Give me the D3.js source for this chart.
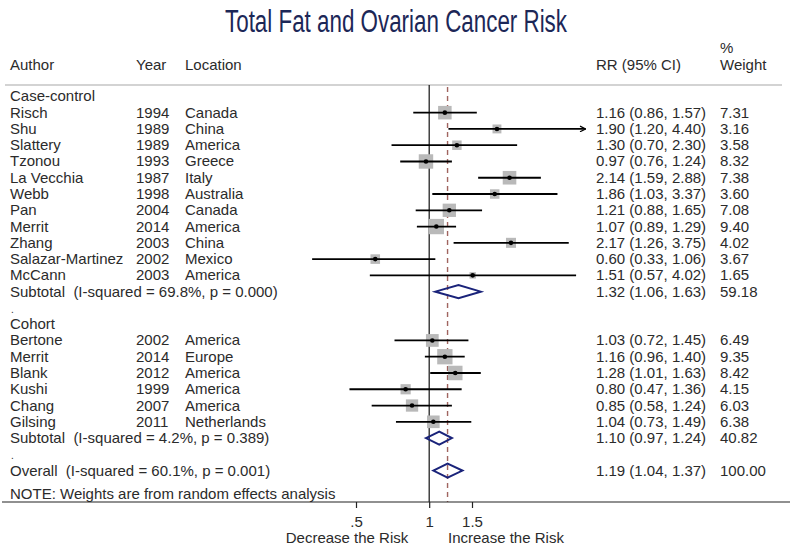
<!DOCTYPE html>
<html>
<head>
<meta charset="utf-8">
<script src="https://cdn.jsdelivr.net/npm/d3@7"></script>
<style>
  html, body { margin: 0; padding: 0; background: #fff; }
  svg { display: block; }
  text { font-family: "Liberation Sans", Arial, sans-serif; white-space: pre; }
</style>
</head>
<body>
<script>
// ---- data ----
const ccAuthors   = ["Risch","Shu","Slattery","Tzonou","La Vecchia","Webb","Pan","Merrit","Zhang","Salazar-Martinez","McCann"];
const ccYears     = [1994,1989,1989,1993,1987,1998,2004,2014,2003,2002,2003];
const ccLocations = ["Canada","China","America","Greece","Italy","Australia","Canada","America","China","Mexico","America"];
const ccRR        = [1.16,1.90,1.30,0.97,2.14,1.86,1.21,1.07,2.17,0.60,1.51];
const ccLo        = [0.86,1.20,0.70,0.76,1.59,1.03,0.88,0.89,1.26,0.33,0.57];
const ccHi        = [1.57,4.40,2.30,1.24,2.88,3.37,1.65,1.29,3.75,1.06,4.02];
const ccWeight    = [7.31,3.16,3.58,8.32,7.38,3.60,7.08,9.40,4.02,3.67,1.65];

const coAuthors   = ["Bertone","Merrit","Blank","Kushi","Chang","Gilsing"];
const coYears     = [2002,2014,2012,1999,2007,2011];
const coLocations = ["America","Europe","America","America","America","Netherlands"];
const coRR        = [1.03,1.16,1.28,0.80,0.85,1.04];
const coLo        = [0.72,0.96,1.01,0.47,0.58,0.73];
const coHi        = [1.45,1.40,1.63,1.36,1.24,1.49];
const coWeight    = [6.49,9.35,8.42,4.15,6.03,6.38];

const groupNames  = ["Case-control","Cohort"];
const subLabels   = ["Subtotal  (I-squared = 69.8%, p = 0.000)","Subtotal  (I-squared = 4.2%, p = 0.389)"];
const subRR       = [1.32,1.10];
const subLo       = [1.06,0.97];
const subHi       = [1.63,1.24];
const subWeight   = ["59.18","40.82"];

const overallLabel  = "Overall  (I-squared = 60.1%, p = 0.001)";
const overallRR     = 1.19, overallLo = 1.04, overallHi = 1.37, overallWeight = "100.00";
const noteText      = "NOTE: Weights are from random effects analysis";
const xTicks        = [0.5, 1, 1.5];
const xTickLabels   = [".5", "1", "1.5"];
const titleText     = "Total Fat and Ovarian Cancer Risk";
const headers       = {author:"Author", year:"Year", location:"Location", rr:"RR (95% CI)", pct:"%", weight:"Weight"};
const leftLabel  = "Decrease the Risk";
const rightLabel = "Increase the Risk";

// ---- build row table ----
const rows = [];
function addGroup(g, authors, years, locs, rr, lo, hi, w) {
  rows.push({type:"group", label: groupNames[g]});
  authors.forEach((a,i) => rows.push({type:"study", label:a, year:years[i], loc:locs[i], rr:rr[i], lo:lo[i], hi:hi[i], w:w[i]}));
  rows.push({type:"sub", label: subLabels[g], rr: subRR[g], lo: subLo[g], hi: subHi[g], wtxt: subWeight[g]});
}
addGroup(0, ccAuthors, ccYears, ccLocations, ccRR, ccLo, ccHi, ccWeight);
rows.push({type:"blank"});
addGroup(1, coAuthors, coYears, coLocations, coRR, coLo, coHi, coWeight);
rows.push({type:"blank"});
rows.push({type:"sub", label: overallLabel, rr: overallRR, lo: overallLo, hi: overallHi, wtxt: overallWeight, overall:true});
rows.push({type:"note", label: noteText});

const W = 792, H = 547;
const svg = d3.select("body").append("svg").attr("width", W).attr("height", H);

const x = d3.scaleLog().domain([0.5, 1.5]).range([356, 472]);
const y = d3.scalePoint().domain(d3.range(rows.length)).range([96.4, 96.4 + (rows.length-1)*16.27]);

const txtColor = "#2b2b2b";
const fs = 15;
const colAuthor = 10, colYear = 136, colLoc = 185, colRR = 596, colW = 720;
const axisY = 502;

// title
svg.append("text").attr("x", W/2).attr("y", 32).attr("text-anchor","middle")
  .attr("font-size", 31).attr("fill", "#1c2757")
  .attr("textLength", 342).attr("lengthAdjust", "spacingAndGlyphs").text(titleText);

// headers
const hdr = svg.append("g").attr("fill", txtColor).attr("font-size", fs);
hdr.append("text").attr("x", colAuthor).attr("y", 70).text(headers.author);
hdr.append("text").attr("x", colYear).attr("y", 70).text(headers.year);
hdr.append("text").attr("x", colLoc).attr("y", 70).text(headers.location);
hdr.append("text").attr("x", colRR).attr("y", 70).text(headers.rr);
hdr.append("text").attr("x", colW).attr("y", 53).text(headers.pct);
hdr.append("text").attr("x", colW).attr("y", 70).text(headers.weight);

svg.append("line").attr("x1", 5).attr("x2", 782).attr("y1", 85).attr("y2", 85)
  .attr("stroke", "#c4c4c4").attr("stroke-width", 1.5);

// reference lines
svg.append("line").attr("x1", x(1)).attr("x2", x(1)).attr("y1", 85).attr("y2", axisY)
  .attr("stroke", "#111").attr("stroke-width", 1.2);
svg.append("line").attr("x1", x(overallRR)).attr("x2", x(overallRR)).attr("y1", 87).attr("y2", axisY)
  .attr("stroke", "#a0645f").attr("stroke-width", 1.4).attr("stroke-dasharray", "5,4");

// row texts
const rg = svg.append("g").attr("fill", txtColor).attr("font-size", fs);
const fmt = d3.format(".2f");
rows.forEach((r, i) => {
  const yy = y(i) + 5;
  if (r.type === "group" || r.type === "sub") {
    rg.append("text").attr("x", colAuthor).attr("y", yy).text(r.label);
  }
  if (r.type === "note") {
    rg.append("text").attr("x", colAuthor).attr("y", yy + 7).text(r.label);
  }
  if (r.type === "blank") {
    rg.append("text").attr("x", colAuthor + 1).attr("y", yy).attr("font-size", 10).text(".");
  }
  if (r.type === "study") {
    rg.append("text").attr("x", colAuthor).attr("y", yy).text(r.label);
    rg.append("text").attr("x", colYear).attr("y", yy).text(r.year);
    rg.append("text").attr("x", colLoc).attr("y", yy).text(r.loc);
  }
  if (r.type === "study" || r.type === "sub") {
    rg.append("text").attr("x", colRR).attr("y", yy)
      .text(`${fmt(r.rr)} (${fmt(r.lo)}, ${fmt(r.hi)})`);
    rg.append("text").attr("x", colW).attr("y", yy).text(r.type === "study" ? fmt(r.w) : r.wtxt);
  }
});

// marks
const defs = svg.append("defs");
defs.append("marker").attr("id","arr").attr("viewBox","0 0 10 10").attr("refX",9).attr("refY",5)
  .attr("markerWidth",7).attr("markerHeight",7).attr("markerUnits","userSpaceOnUse").attr("orient","auto")
  .append("path").attr("d","M1,1 L9,5 L1,9").attr("fill","none").attr("stroke","#000").attr("stroke-width",1.8);

const mg = svg.append("g");
const arrowCut = 4.2;
rows.forEach((r, i) => {
  const yy = y(i);
  if (r.type === "study") {
    const side = 5 * Math.sqrt(r.w);
    mg.append("rect").attr("x", x(r.rr) - side/2).attr("y", yy - side/2)
      .attr("width", side).attr("height", side).attr("fill", "#b9b9b9");
    const ln = mg.append("line").attr("x1", x(r.lo)).attr("x2", x(r.hi)).attr("y1", yy).attr("y2", yy)
      .attr("stroke", "#000").attr("stroke-width", 1.8);
    if (r.hi > arrowCut) ln.attr("marker-end", "url(#arr)");
    mg.append("circle").attr("cx", x(r.rr)).attr("cy", yy).attr("r", 2.3).attr("fill", "#000");
  }
  if (r.type === "sub") {
    const h = r.overall ? 7 : 6.5;
    const pts = [[x(r.lo), yy],[x(r.rr), yy - h],[x(r.hi), yy],[x(r.rr), yy + h]];
    mg.append("path").attr("d", "M" + pts.map(p => p.join(",")).join("L") + "Z")
      .attr("fill", "none").attr("stroke", "#1a237a").attr("stroke-width", 2);
  }
});

// axis
svg.append("line").attr("x1", 2).attr("x2", 790).attr("y1", axisY).attr("y2", axisY)
  .attr("stroke", "#222").attr("stroke-width", 1.2);
const ag = svg.append("g").attr("transform", `translate(0,${axisY})`);
const axis = d3.axisBottom(x).tickValues(xTicks).tickFormat((d,i) => xTickLabels[i]).tickSize(6).tickPadding(8);
ag.call(axis);
ag.select(".domain").remove();
ag.selectAll(".tick line").attr("stroke", "#222").attr("stroke-width", 1.2);
ag.selectAll(".tick text").attr("font-size", fs).attr("fill", txtColor)
  .attr("font-family", '"Liberation Sans", Arial, sans-serif');

svg.append("text").attr("x", 347).attr("y", 543).attr("text-anchor","middle").attr("font-size", fs)
  .attr("fill", txtColor).text(leftLabel);
svg.append("text").attr("x", 448).attr("y", 543).attr("font-size", fs)
  .attr("fill", txtColor).text(rightLabel);
</script>
</body>
</html>
